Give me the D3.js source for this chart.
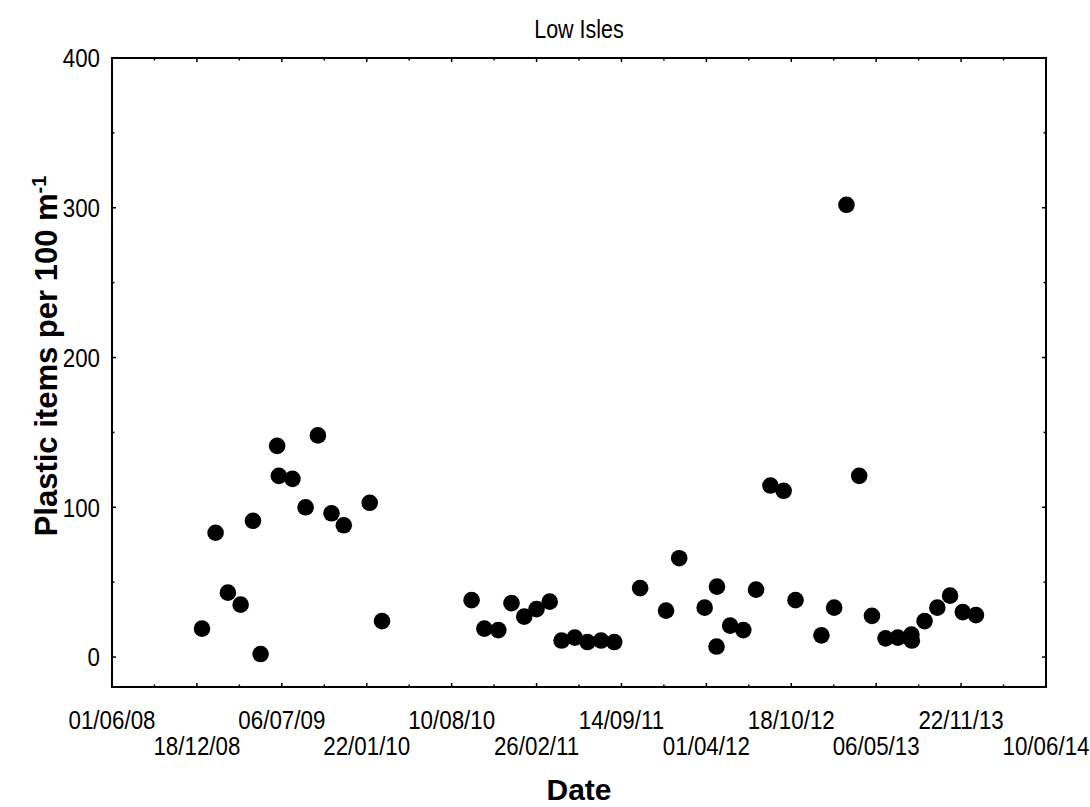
<!DOCTYPE html>
<html lang="en">
  <head>
    <meta charset="utf-8">
    <script src="https://d3js.org/d3.v7.min.js"></script>
    <style>
    body { margin: 0; background: #fff; }
    .tick-label { font-family: "Liberation Sans", Arial, sans-serif; font-size: 26px; fill: #000; }
    .axis-title { font-family: "Liberation Sans", Arial, sans-serif; font-weight: bold; fill: #000; }
    </style>
    <title>Low Isles</title>
  </head>
  <body>
    <script>
// sampling dates and plastic counts
var dates = ['2008-12-30','2009-01-31','2009-03-01','2009-03-31','2009-04-29','2009-05-17',
             '2009-06-25','2009-06-29','2009-07-31','2009-08-31','2009-09-29','2009-10-31',
             '2009-11-29','2010-01-29','2010-02-27','2010-09-26','2010-10-26','2010-11-28',
             '2010-12-29','2011-01-28','2011-02-26','2011-03-29','2011-04-26','2011-05-27',
             '2011-06-26','2011-07-28','2011-08-28','2011-10-28','2011-12-28','2012-01-28',
             '2012-03-28','2012-04-25','2012-04-26','2012-05-27','2012-06-27','2012-07-27',
             '2012-08-30','2012-09-30','2012-10-28','2012-12-28','2013-01-27','2013-02-25',
             '2013-03-27','2013-04-26','2013-05-28','2013-06-26','2013-07-28','2013-07-29',
             '2013-08-28','2013-09-27','2013-10-27','2013-11-26','2013-12-27'];
var items = [19, 83, 43, 35, 91, 2,
             141, 121, 119, 100, 148, 96,
             88, 103, 24, 38, 19, 18,
             36, 27, 32, 37, 11, 13,
             10, 11, 10, 46, 31, 66,
             33, 7, 47, 21, 18, 45,
             114.5, 111, 38, 14.5, 33, 302,
             121, 27.5, 12.5, 13, 15, 11,
             24, 33, 41, 30, 28];

// axis ticks
var xTickLabels = ['01/06/08','18/12/08','06/07/09','22/01/10','10/08/10','26/02/11',
                   '14/09/11','01/04/12','18/10/12','06/05/13','22/11/13','10/06/14'];
var yTickLabels = [0, 100, 200, 300, 400];
var yMinor = [50, 150, 250, 350];

var title = 'Low Isles';

var W = 1090, H = 807;
var pL = 112, pR = 1046, pT = 58, pB = 687;
var squeeze = 0.86; // tick labels in the original are a condensed face

var parseDMY = d3.utcParse('%d/%m/%y');
var parseISO = d3.utcParse('%Y-%m-%d');
var majorX = xTickLabels.map(parseDMY);
// minor ticks halfway between the labelled ones
var minorX = [];
for (var i = 0; i < majorX.length - 1; i++) {
  minorX.push(new Date((majorX[i].getTime() + majorX[i + 1].getTime()) / 2));
}

var x = d3.scaleUtc()
  .domain([majorX[0], majorX[majorX.length - 1]])
  .range([pL, pR]);
var y = d3.scaleLinear()
  .domain([-20, 400])
  .range([pB, pT]);

var svg = d3.select('body').append('svg')
  .attr('width', W)
  .attr('height', H);

// ticks point inward on all four sides
var ticks = svg.append('g').attr('stroke', '#000').attr('stroke-width', 1.5);
function xTicks(vals, len) {
  [[pB, -len], [pT, len]].forEach(function(s) {
    ticks.append('g').selectAll('line').data(vals).enter().append('line')
      .attr('x1', function(d) { return x(d); })
      .attr('x2', function(d) { return x(d); })
      .attr('y1', s[0])
      .attr('y2', s[0] + s[1]);
  });
}
function yTicks(vals, len) {
  [[pL, len], [pR, -len]].forEach(function(s) {
    ticks.append('g').selectAll('line').data(vals).enter().append('line')
      .attr('y1', function(d) { return y(d); })
      .attr('y2', function(d) { return y(d); })
      .attr('x1', s[0])
      .attr('x2', s[0] + s[1]);
  });
}
xTicks(majorX.slice(1, -1), 4);
xTicks(minorX, 2.5);
yTicks(yTickLabels.slice(0, -1), 4);
yTicks(yMinor, 2.5);

svg.append('rect')
  .attr('x', pL).attr('y', pT)
  .attr('width', pR - pL).attr('height', pB - pT)
  .attr('fill', 'none')
  .attr('stroke', '#000')
  .attr('stroke-width', 2);

// tick labels
svg.append('g').selectAll('text')
  .data(yTickLabels)
  .enter().append('text')
  .attr('class', 'tick-label')
  .attr('transform', function(d) { return 'translate(' + (pL - 12) + ',' + y(d) + ') scale(' + squeeze + ',1)'; })
  .attr('dy', '0.36em')
  .attr('text-anchor', 'end')
  .text(function(d) { return d; });

svg.append('g').selectAll('text')
  .data(xTickLabels)
  .enter().append('text')
  .attr('class', 'tick-label')
  .attr('transform', function(d, i) {
    return 'translate(' + x(majorX[i]) + ',' + (i % 2 === 0 ? 729 : 755) + ') scale(' + squeeze + ',1)';
  })
  .attr('text-anchor', 'middle')
  .text(function(d) { return d; });

// points
svg.append('g').selectAll('circle')
  .data(dates)
  .enter().append('circle')
  .attr('cx', function(d) { return x(parseISO(d)); })
  .attr('cy', function(d, i) { return y(items[i]); })
  .attr('r', 8.3)
  .attr('fill', '#000');

// titles
svg.append('text')
  .attr('class', 'tick-label')
  .attr('transform', 'translate(' + ((pL + pR) / 2) + ',38) scale(' + squeeze + ',1)')
  .attr('text-anchor', 'middle')
  .style('font-size', '25px')
  .text(title);

svg.append('text')
  .attr('class', 'axis-title')
  .attr('x', (pL + pR) / 2)
  .attr('y', 800)
  .attr('text-anchor', 'middle')
  .style('font-size', '30px')
  .text('Date');

var yt = svg.append('text')
  .attr('class', 'axis-title')
  .attr('transform', 'translate(57,356) rotate(-90)')
  .attr('text-anchor', 'middle')
  .style('font-size', '31px');
yt.append('tspan').text('Plastic items per 100 m');
yt.append('tspan').attr('dy', '-0.55em').style('font-size', '20px').text('-1');
    </script>
  </body>
</html>
